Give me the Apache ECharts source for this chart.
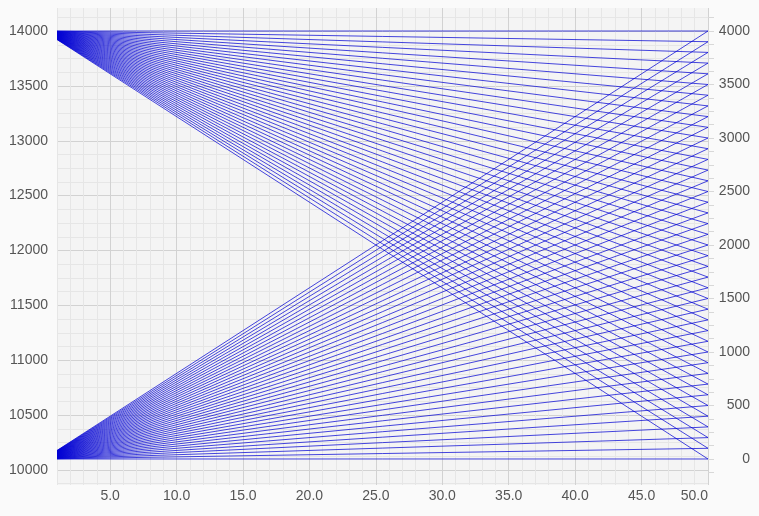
<!DOCTYPE html>
<html>
<head>
<meta charset="utf-8">
<script src="https://cdn.jsdelivr.net/npm/echarts@6/dist/echarts.min.js"></script>
<style>
html,body{margin:0;padding:0;background:#fafafa;}
#chart{width:759px;height:516px;}
</style>
</head>
<body>
<div id="chart"></div>
<script>
// line end points
var xStart = 1, xEnd = 50;
var fallStart = [4000,3998,3996,3994,3992,3990,3988,3986,3984,3982,3980,3978,3976,3974,3972,3970,3968,3966,3964,3962,3960,
                 3958,3956,3954,3952,3950,3948,3946,3944,3942,3940,3938,3936,3934,3932,3930,3928,3926,3924,3922,3920];
var fallEnd = [4000,3900,3800,3700,3600,3500,3400,3300,3200,3100,3000,2900,2800,2700,2600,2500,2400,2300,2200,2100,2000,
               1900,1800,1700,1600,1500,1400,1300,1200,1100,1000,900,800,700,600,500,400,300,200,100,0];
var riseStart = [0,2,4,6,8,10,12,14,16,18,20,22,24,26,28,30,32,34,36,38,40,
                 42,44,46,48,50,52,54,56,58,60,62,64,66,68,70,72,74,76,78,80];
var riseEnd = [0,100,200,300,400,500,600,700,800,900,1000,1100,1200,1300,1400,1500,1600,1700,1800,1900,2000,
               2100,2200,2300,2400,2500,2600,2700,2800,2900,3000,3100,3200,3300,3400,3500,3600,3700,3800,3900,4000];

var leftLabels = [10000,10500,11000,11500,12000,12500,13000,13500,14000];
var rightLabels = [0,500,1000,1500,2000,2500,3000,3500,4000];

var chart = echarts.init(document.getElementById('chart'));

var leftTicks = [], rightTicks = [];
for (var v = 9875; v <= 14125; v += 125) leftTicks.push(v);
for (var r = -125; r <= 4125; r += 125) rightTicks.push(r);

var minor = '#e6e6e6', major = '#d2d2d2';
var font = {color:'#555', fontSize:14, fontFamily:'Liberation Sans, Arial, sans-serif'};
var plain = function(v){ return String(v); };

var series = [];
function addLine(a, b){
    series.push({
        type:'line',
        yAxisIndex:1,
        data:[[xStart, a], [xEnd, b]],
        showSymbol:false,
        symbol:'none',
        silent:true,
        lineStyle:{color:'rgba(0,0,210,0.72)', width:1}
    });
}
fallStart.forEach(function(s, i){ addLine(s, fallEnd[i]); });
riseStart.forEach(function(s, i){ addLine(s, riseEnd[i]); });

chart.setOption({
    animation:false,
    backgroundColor:'#fafafa',
    grid:{
        left:57, right:51, top:8, bottom:31,
        show:true, backgroundColor:'#f4f4f4', borderWidth:0
    },
    xAxis:{
        type:'value',
        min:1, max:50, interval:1,
        axisLine:{show:false},
        axisTick:{show:false},
        axisLabel:Object.assign({
            margin:4,
            alignMaxLabel:'right',
            formatter:function(v){ return v % 5 === 0 ? v.toFixed(1) : ''; }
        }, font),
        splitLine:{lineStyle:{color:[minor,minor,minor,minor,major], width:1}}
    },
    yAxis:[{
        type:'value',
        min:9863, max:14210,
        axisLine:{show:false},
        axisTick:{show:false, customValues:leftTicks},
        axisLabel:Object.assign({margin:9, customValues:leftLabels, formatter:plain}, font),
        splitLine:{lineStyle:{color:[minor,major,minor,minor], width:1}}
    },{
        type:'value',
        position:'right',
        min:-243, max:4215,
        axisLine:{show:false},
        axisTick:{show:true, length:6, customValues:rightTicks, lineStyle:{color:'#d8d8d8'}},
        axisLabel:Object.assign({margin:42, align:'right', customValues:rightLabels, formatter:plain}, font),
        splitLine:{show:false}
    }],
    series:series
});
</script>
</body>
</html>
